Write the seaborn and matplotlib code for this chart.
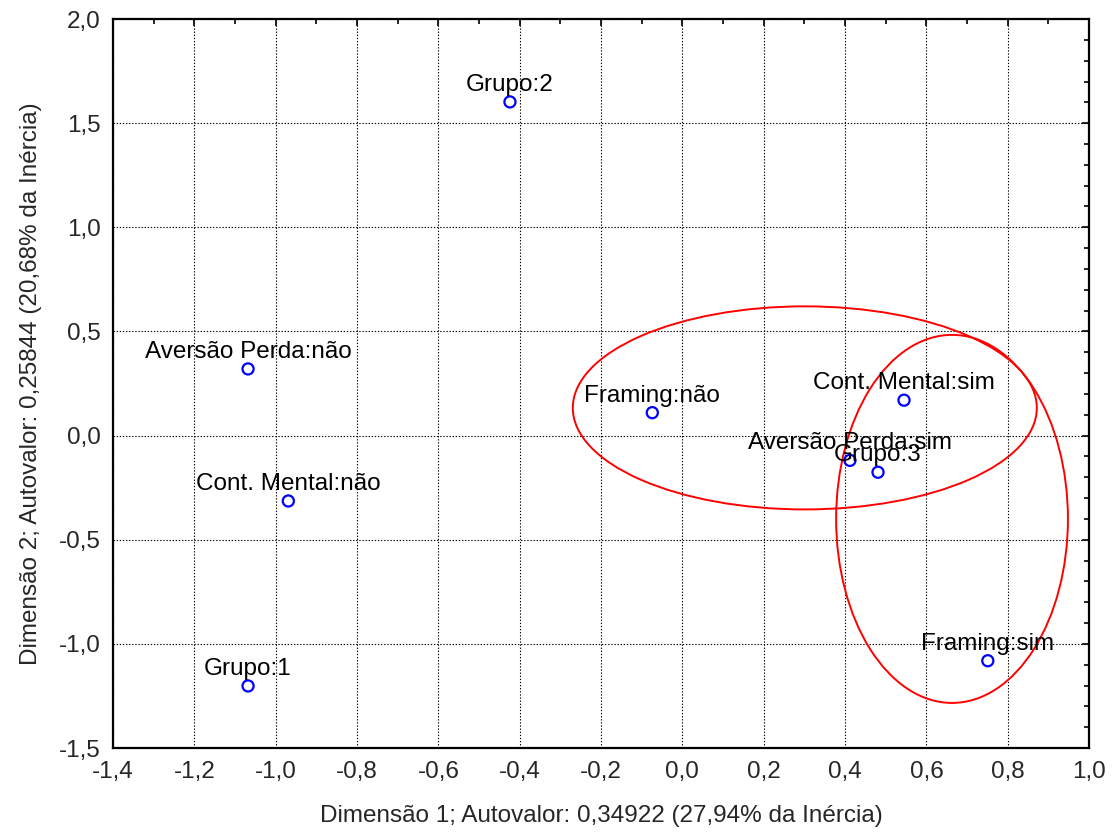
import matplotlib
matplotlib.use("Agg")
import matplotlib.pyplot as plt
from matplotlib.patches import Ellipse
from matplotlib.ticker import FuncFormatter, MultipleLocator
import seaborn as sns
import pandas as pd

# Category coordinates on the first two dimensions
labels = ["Grupo:1", "Grupo:2", "Grupo:3",
          "Aversão Perda:não", "Aversão Perda:sim",
          "Cont. Mental:não", "Cont. Mental:sim",
          "Framing:não", "Framing:sim"]
dim1 = [-1.068, -0.424, 0.481, -1.068, 0.412, -0.969, 0.545, -0.074, 0.751]
dim2 = [-1.202, 1.602, -0.176, 0.320, -0.119, -0.314, 0.170, 0.110, -1.081]

# Highlighted groupings: centre x, centre y, width, height
ellipse_cx = [0.301, 0.663]
ellipse_cy = [0.133, -0.400]
ellipse_w = [1.141, 0.570]
ellipse_h = [0.975, 1.767]

xlabel = "Dimensão 1; Autovalor: 0,34922 (27,94% da Inércia)"
ylabel = "Dimensão 2; Autovalor: 0,25844 (20,68% da Inércia)"

df = pd.DataFrame({"label": labels, "dim1": dim1, "dim2": dim2})

sns.set_style("white")
plt.rcParams["font.family"] = ["Liberation Sans", "DejaVu Sans"]

FS = 17.5

fig = plt.figure(figsize=(11.17, 8.34), dpi=100)
ax = fig.add_axes([0.1012, 0.1031, 0.8738, 0.8741])

sns.scatterplot(data=df, x="dim1", y="dim2", ax=ax, marker="o",
                s=64, facecolor="none", edgecolor="#0000ff", linewidth=1.6,
                zorder=4)

for _, r in df.iterrows():
    ax.annotate(r["label"], (r["dim1"], r["dim2"]), xytext=(0, 8),
                textcoords="offset points", ha="center", va="baseline",
                fontsize=FS, color="black", zorder=5)

for cx, cy, w, h in zip(ellipse_cx, ellipse_cy, ellipse_w, ellipse_h):
    ax.add_patch(Ellipse((cx, cy), w, h, fill=False, edgecolor="#ff0000",
                         linewidth=1.4, zorder=3))

ax.set_xlim(-1.4, 1.0)
ax.set_ylim(-1.5, 2.0)
ax.xaxis.set_major_locator(MultipleLocator(0.2))
ax.xaxis.set_minor_locator(MultipleLocator(0.1))
ax.yaxis.set_major_locator(MultipleLocator(0.5))
ax.yaxis.set_minor_locator(MultipleLocator(0.1))
fmt = FuncFormatter(lambda v, p: f"{v:.1f}".replace(".", ",").replace("-0,0", "0,0"))
ax.xaxis.set_major_formatter(fmt)
ax.yaxis.set_major_formatter(fmt)

ax.grid(True, which="major", color="black", linestyle=(0, (1.2, 1.6)),
        linewidth=0.8)
ax.tick_params(which="both", direction="in", top=True, right=True,
               labelsize=FS, color="black", width=1.2)
ax.tick_params(which="major", length=5, pad=9)
ax.tick_params(which="minor", length=3.5)
for s in ax.spines.values():
    s.set_color("black")
    s.set_linewidth(1.6)

ax.set_xlabel(xlabel, fontsize=FS, labelpad=16)
ax.set_ylabel(ylabel, fontsize=FS, labelpad=12)

fig.savefig("out.png", dpi=100)
